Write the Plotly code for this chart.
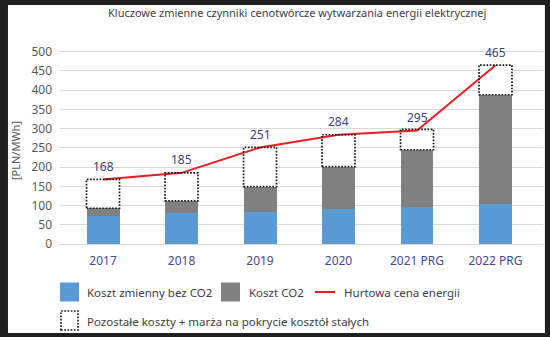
import plotly.graph_objects as go

# ---- data ----
lata = ["2017", "2018", "2019", "2020", "2021 PRG", "2022 PRG"]
koszt_zmienny = [72, 80, 84, 91, 95, 103]
koszt_co2 = [21, 32, 65, 110, 150, 285]
pozostale = [75, 73, 102, 83, 53, 77]
cena = [168, 185, 251, 284, 295, 465]
y_ticks = [0, 50, 100, 150, 200, 250, 300, 350, 400, 450, 500]

BLUE = "#5b9bd5"
GRAY = "#808080"
RED = "rgb(237,28,36)"
LBL = "#3d3d7a"
TXT = "#595959"
FONT = "Noto Sans"
BW = 0.42
DOT = dict(color="#1a1a1a", width=1.7, dash="1.7px,1.5px")

xs = list(range(len(lata)))

fig = go.Figure()
fig.add_bar(x=xs, y=koszt_zmienny, marker=dict(color=BLUE, line=dict(width=0)), width=BW)
fig.add_bar(x=xs, y=koszt_co2, marker=dict(color=GRAY, line=dict(width=0)), width=BW)
fig.add_bar(x=xs, y=pozostale, marker=dict(color="white", line=dict(width=0)), width=BW)
fig.add_scatter(x=xs, y=cena, mode="lines", line=dict(color=RED, width=2))

shapes = []
# white card inside dark frame
shapes.append(dict(type="rect", xref="paper", yref="paper", x0=-0.1077, x1=1.004,
                   y0=-0.445, y1=1.195, fillcolor="white", line=dict(width=0), layer="below"))
# dotted outlines for remaining costs
for i in xs:
    base = koszt_zmienny[i] + koszt_co2[i]
    top = base + pozostale[i]
    shapes.append(dict(type="rect", xref="x", yref="y", x0=i - BW / 2, x1=i + BW / 2,
                       y0=base, y1=top, line=DOT,
                       fillcolor="rgba(0,0,0,0)", layer="above"))

annotations = []
for i in xs:
    annotations.append(dict(x=i, y=cena[i], xref="x", yref="y", text=str(cena[i]),
                            xanchor="center", yanchor="middle",
                            showarrow=False, yshift=13, font=dict(family=FONT, size=12, color=LBL)))

annotations.append(dict(x=0.49, y=1.155, xref="paper", yref="paper",
                        xanchor="center", yanchor="middle",
                        text="Kluczowe zmienne czynniki cenotwórcze wytwarzania energii elektrycznej",
                        showarrow=False, font=dict(family=FONT, size=11, color="#404040")))
annotations.append(dict(x=-0.093, y=0.465, xref="paper", yref="paper", text="[PLN/MWh]",
                        xanchor="center", yanchor="middle",
                        textangle=-90, showarrow=False, font=dict(family=FONT, size=11, color=TXT)))

# manual legend
def px_x(x):
    return (x - 60) / 483.0

def px_y(y):
    return (244 - y) / 200.0

shapes.append(dict(type="rect", xref="paper", yref="paper", x0=px_x(60), x1=px_x(79),
                   y0=px_y(301.5), y1=px_y(282.5), fillcolor=BLUE, line=dict(width=0)))
shapes.append(dict(type="rect", xref="paper", yref="paper", x0=px_x(221), x1=px_x(240),
                   y0=px_y(301.5), y1=px_y(282.5), fillcolor=GRAY, line=dict(width=0)))
shapes.append(dict(type="line", xref="paper", yref="paper", x0=px_x(315), x1=px_x(335),
                   y0=px_y(292), y1=px_y(292), line=dict(color=RED, width=2)))
shapes.append(dict(type="rect", xref="paper", yref="paper", x0=px_x(61), x1=px_x(78),
                   y0=px_y(330), y1=px_y(311), fillcolor="white", line=DOT))
legend_items = [
    (85, 292, "Koszt zmienny bez CO2"),
    (247, 292, "Koszt CO2"),
    (342, 292, "Hurtowa cena energii"),
    (85, 321, "Pozostałe koszty + marża na pokrycie kosztół stałych"),
]
for x, y, t in legend_items:
    annotations.append(dict(x=px_x(x), y=px_y(y), xref="paper", yref="paper", text=t,
                            xanchor="left", yanchor="middle", showarrow=False,
                            font=dict(family=FONT, size=11.5, color="#404040")))

fig.update_layout(
    width=550, height=337,
    margin=dict(l=60, r=7, t=44, b=93),
    paper_bgcolor="#1f1f1f",
    plot_bgcolor="white",
    barmode="stack",
    showlegend=False,
    shapes=shapes,
    annotations=annotations,
    xaxis=dict(range=[-0.548, 5.605], tickmode="array", tickvals=xs, ticktext=lata,
               showgrid=False, zeroline=False, showline=True, linecolor="#d9d9d9", linewidth=1,
               ticks="", ticklabelstandoff=6,
               tickfont=dict(family=FONT, size=12, color="#4a4a85")),
    yaxis=dict(range=[0, 520], tickmode="array", tickvals=y_ticks,
               showgrid=True, gridcolor="#d9d9d9", gridwidth=1, zeroline=False,
               showline=False, ticks="", ticklabelstandoff=7,
               tickfont=dict(family=FONT, size=12, color=TXT)),
)

fig.write_html("out.html")
